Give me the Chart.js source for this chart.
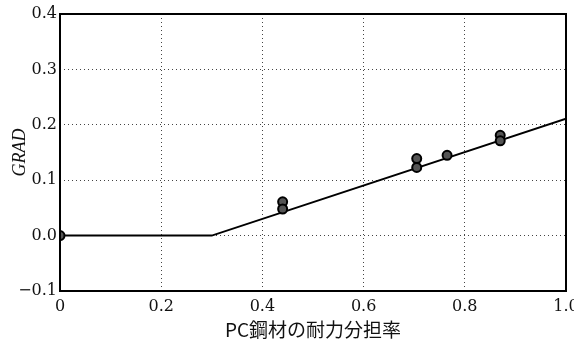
<!DOCTYPE html>
<html><head><meta charset="utf-8">
<script src="https://cdn.jsdelivr.net/npm/chart.js@4"></script>
<style>html,body{margin:0;padding:0;background:#fff;}</style>
</head><body>
<canvas id="c" width="574" height="341"></canvas>
<script>
const lineX = [0, 0.3, 1.0];
const lineY = [0, 0, 0.211];
const pointX = [0, 0.44, 0.44, 0.705, 0.705, 0.765, 0.87, 0.87];
const pointY = [0, 0.061, 0.048, 0.139, 0.123, 0.145, 0.181, 0.171];
const xTicks = [0, 0.2, 0.4, 0.6, 0.8, 1.0];
const xTickLabels = ['0', '0.2', '0.4', '0.6', '0.8', '1.0'];
const yTicks = [-0.1, 0, 0.1, 0.2, 0.3, 0.4];
const yTickLabels = ['\u22120.1', '0.0', '0.1', '0.2', '0.3', '0.4'];
const xTitle = 'PC鋼材の耐力分担率';
const yTitle = 'GRAD';

const serif = '"DejaVu Serif", "Liberation Serif", serif';
function lbl(vals, labels) {
  return function(v) {
    for (let i = 0; i < vals.length; i++) if (Math.abs(vals[i] - v) < 1e-6) return labels[i];
    return '';
  };
}
const frame = {
  id: 'frame',
  afterDraw(chart) {
    const {ctx, chartArea: a} = chart;
    ctx.save();
    ctx.strokeStyle = '#000';
    ctx.lineWidth = 2;
    ctx.strokeRect(a.left, a.top, a.right - a.left, a.bottom - a.top);
    ctx.restore();
  }
};
new Chart(document.getElementById('c'), {
  type: 'scatter',
  data: {
    datasets: [
      {
        type: 'line',
        data: lineX.map((x, i) => ({x, y: lineY[i]})),
        borderColor: '#000', borderWidth: 2, pointRadius: 0, fill: false, tension: 0, order: 2
      },
      {
        data: pointX.map((x, i) => ({x, y: pointY[i]})),
        pointRadius: 4.5, pointBackgroundColor: '#555', pointBorderColor: '#000', pointBorderWidth: 2, order: 1
      }
    ]
  },
  options: {
    responsive: false,
    animation: false,
    layout: {padding: {top: 14, right: 8, left: 0, bottom: 0}},
    plugins: {legend: {display: false}, tooltip: {enabled: false}},
    scales: {
      x: {
        type: 'linear', min: 0, max: 1.0,
        afterBuildTicks(s) { s.ticks = xTicks.map(v => ({value: v})); },
        afterFit(s) { s.height = 50; s.paddingLeft = 0; s.paddingRight = 0; },
        grid: {color: '#444', lineWidth: 1, drawTicks: false},
        border: {display: false, dash: [1, 3]},
        ticks: {callback: lbl(xTicks, xTickLabels), color: '#111', font: {family: serif, size: 16}, padding: 6, maxRotation: 0},
        title: {display: true, text: xTitle, color: '#111', font: {family: '"Noto Sans CJK JP", sans-serif', size: 19}, padding: {top: -6, bottom: 0}}
      },
      y: {
        type: 'linear', min: -0.1, max: 0.4,
        afterBuildTicks(s) { s.ticks = yTicks.map(v => ({value: v})); },
        afterFit(s) { s.width = 60; s.paddingTop = 0; s.paddingBottom = 0; },
        grid: {color: '#444', lineWidth: 1, drawTicks: false},
        border: {display: false, dash: [1, 3]},
        ticks: {callback: lbl(yTicks, yTickLabels), color: '#111', font: {family: serif, size: 16}, padding: 3},
        title: {display: true, text: yTitle, color: '#111', font: {family: '"Liberation Serif", serif', size: 18, style: 'italic'}, padding: {top: 9, bottom: 0}}
      }
    }
  },
  plugins: [frame]
});
</script>
</body></html>
